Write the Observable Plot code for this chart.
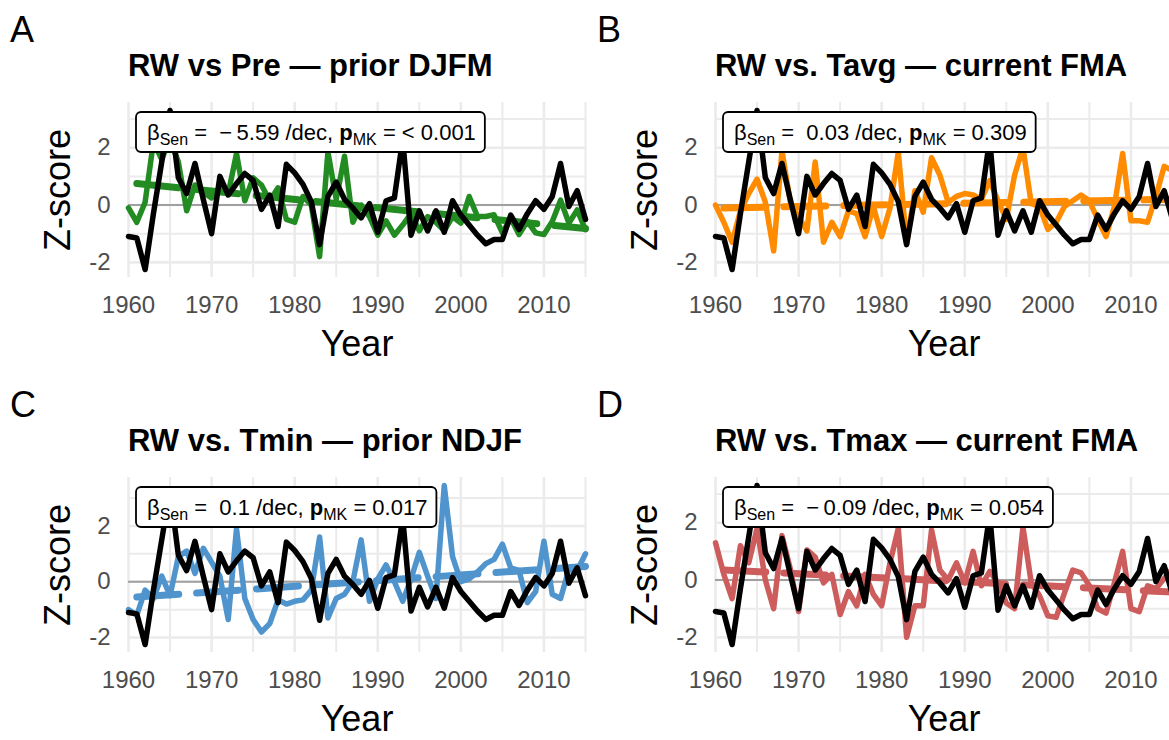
<!DOCTYPE html>
<html><head><meta charset="utf-8">
<script src="https://cdn.jsdelivr.net/npm/d3@7"></script>
<script src="https://cdn.jsdelivr.net/npm/@observablehq/plot@0.6"></script>
<style>
body{margin:0;width:1169px;height:740px;overflow:hidden;background:#fff;font-family:"Liberation Sans",Arial,Helvetica,sans-serif;}
.panel{position:absolute;width:587px;height:375px;}
.tag{position:absolute;left:10px;top:12px;font-size:36px;line-height:36px;color:#000;}
.title{position:absolute;left:128px;top:50px;font-size:31px;line-height:31px;font-weight:bold;white-space:nowrap;color:#000;}
.chart{position:absolute;left:0;top:90px;}
</style></head><body>
<div id="root"></div>
<script>
// ---- data ----
const years = [1960,1961,1962,1963,1964,1965,1966,1967,1968,1969,1970,1971,1972,1973,1974,1975,1976,1977,1978,1979,
  1980,1981,1982,1983,1984,1985,1986,1987,1988,1989,1990,1991,1992,1993,1994,1995,1996,1997,1998,1999,
  2000,2001,2002,2003,2004,2005,2006,2007,2008,2009,2010,2011,2012,2013,2014,2015];
const rw = [-1.1,-1.15,-2.25,-0.3,1.5,3.3,0.95,0.4,1.45,0.2,-1.0,1.0,0.35,0.75,1.1,0.86,-0.15,0.35,-0.75,1.42,
  1.12,0.72,0.12,-1.38,0.3,0.8,0.2,-0.1,-0.45,0.05,-0.95,0.15,0.25,2.3,-1.05,-0.2,-0.9,-0.2,-0.95,0.15,
  -0.35,-0.7,-1.05,-1.35,-1.2,-1.2,-0.35,-0.85,-0.3,0.15,-0.15,0.3,1.45,-0.05,0.5,-0.5];
const pre = [-0.1,-0.6,0.1,2.2,1.6,2.3,1.5,-0.2,0.7,0.45,0.25,0.55,0.4,1.8,0.15,0.95,0.7,0.15,0.6,-0.5,
  -0.6,0.3,0.0,-1.8,1.85,0.2,1.7,-0.6,0.0,-0.4,-1.05,-0.55,-1.05,-0.7,-0.3,-0.9,-0.4,-0.6,-0.9,-0.4,
  -0.63,0.3,-0.4,-0.4,-0.34,-0.97,-0.46,-1.03,-0.57,-0.97,-1.03,-0.57,0.17,-0.63,-0.17,-0.86];
const tavg = [0.0,-0.6,-1.3,-0.2,0.4,0.9,0.1,-1.6,1.9,0.1,-0.4,-0.9,1.5,-1.3,-0.6,-1.1,-0.2,-0.3,-1.1,-0.05,
  -1.1,-0.1,1.85,-1.35,0.5,-0.25,1.65,1.05,0.1,0.3,0.4,0.35,0.2,0.85,0.15,-0.5,1.05,2.0,0.05,-0.05,
  -0.85,-0.6,-0.05,0.15,0.35,0.15,-0.5,-1.1,-0.05,1.8,-0.55,-0.55,-0.6,0.3,1.35,1.2];
const tmin = [-1.0,-1.2,-0.3,-0.6,0.2,-0.5,0.9,1.1,0.3,1.2,0.7,0.2,-1.35,1.9,-0.6,-1.35,-1.8,-1.5,-0.65,-0.8,
  -0.7,-0.65,-0.3,1.6,-1.3,-0.6,-0.45,0.0,1.5,-0.7,0.1,0.6,0.0,-0.7,0.1,1.05,0.2,-0.6,3.45,0.9,
  0.0,0.1,0.35,0.65,0.8,1.35,0.5,0.4,-0.75,-0.35,1.45,-0.45,-0.6,0.45,0.4,1.0];
const tmax = [1.3,0.2,-0.65,1.2,0.6,1.8,0.0,-1.0,1.55,0.4,-1.1,1.05,0.8,-0.1,0.2,-1.2,-0.4,-0.9,0.2,-0.5,
  -0.9,0.6,1.8,-2.0,-0.9,-0.9,1.75,0.35,0.0,0.6,-0.1,1.0,-0.2,0.3,-0.1,-0.8,-1.0,1.85,-0.1,-0.55,
  -1.25,-1.3,-0.45,0.35,0.25,-0.2,-1.0,-1.15,-0.1,1.0,-1.0,-1.1,-0.2,-0.3,0.05,0.4];
const trendYears = [1961, 2015];
const trendPre = [0.75, -0.82];
const trendTavg = [-0.1, 0.2];
const trendTmin = [-0.55, 0.55];
const trendTmax = [0.35, -0.42];
const xMajor = [1960,1970,1980,1990,2000,2010];
const xMinor = [1965,1975,1985,1995,2005,2015];
const yMajor = [-2,0,2];
const yMinor = [-1,1,3];
const tags = ["A","B","C","D"];
const titles = ["RW vs Pre \u2014 prior DJFM","RW vs. Tavg \u2014 current FMA","RW vs. Tmin \u2014 prior NDJF","RW vs. Tmax \u2014 current FMA"];
const slopes = ["\u2212\u20095.59","0.03","0.1","\u2212\u20090.09"];
const pvals = ["< 0.001","0.309","0.017","0.054"];
const colors = ["#228B22","#FF8C00","#4F94CD","#CD5C5C"];
const climSeries = [pre, tavg, tmin, tmax];
const trends = [trendPre, trendTavg, trendTmin, trendTmax];

const FONT = '"Liberation Sans", Arial, Helvetica, sans-serif';
const root = document.getElementById("root");
const NS = "http://www.w3.org/2000/svg";

function makePanel(k) {
  const vals = climSeries[k];
  const data = years.map((y, i) => ({year: y, rw: rw[i], clim: vals[i]}));
  const trend = trendYears.map((y, i) => ({year: y, z: trends[k][i]}));
  const all = rw.concat(vals);
  const lo = d3.min(all), hi = d3.max(all), pad = 0.05 * (hi - lo);
  const W = 587, H = 272, mL = 128, mR = 2, mT = 12, mB = 85;
  const plot = Plot.plot({
    width: W, height: H, marginLeft: mL, marginRight: mR, marginTop: mT, marginBottom: mB,
    style: {fontFamily: FONT, background: "transparent", overflow: "visible"},
    x: {domain: [1960, 2015]},
    y: {domain: [lo - pad, hi + pad]},
    marks: [
      Plot.gridX(xMinor, {stroke: "#ebebeb", strokeOpacity: 1, strokeWidth: 2}),
      Plot.gridX(xMajor, {stroke: "#ebebeb", strokeOpacity: 1, strokeWidth: 2.6}),
      Plot.gridY(yMinor, {stroke: "#ebebeb", strokeOpacity: 1, strokeWidth: 2}),
      Plot.gridY(yMajor, {stroke: "#ebebeb", strokeOpacity: 1, strokeWidth: 2.6}),
      Plot.ruleY([0], {stroke: "#a0a0a0", strokeWidth: 2}),
      Plot.line(data, {x: "year", y: "clim", stroke: colors[k], strokeWidth: 5.5, strokeLinejoin: "round"}),
      Plot.line(trend, {x: "year", y: "z", stroke: colors[k], strokeWidth: 7, strokeDasharray: "42,18"}),
      Plot.line(data, {x: "year", y: "rw", stroke: "#000", strokeWidth: 5.5, strokeLinejoin: "round"}),
      Plot.axisX(xMajor, {tickSize: 0, tickPadding: 18, fontSize: 24, color: "#4d4d4d", label: null, tickFormat: d => String(d)}),
      Plot.axisY(yMajor, {tickSize: 0, tickPadding: 18, fontSize: 24, color: "#4d4d4d", label: null, tickFormat: d => String(d)}),
      Plot.text(["Z-score"], {frameAnchor: "left", dx: -70, rotate: -90, textAnchor: "middle", lineAnchor: "middle", fontSize: 36, fill: "#000"}),
      Plot.text(["Year"], {frameAnchor: "bottom", dy: 67, textAnchor: "middle", lineAnchor: "middle", fontSize: 36, fill: "#000"})
    ]
  });
  const div = document.createElement("div");
  div.className = "panel";
  div.style.left = (k % 2) * 587 + "px";
  div.style.top = Math.floor(k / 2) * 375 + "px";
  const tag = document.createElement("div"); tag.className = "tag"; tag.textContent = tags[k];
  const title = document.createElement("div"); title.className = "title"; title.textContent = titles[k];
  const wrap = document.createElement("div"); wrap.className = "chart"; wrap.appendChild(plot);
  div.appendChild(tag); div.appendChild(title); div.appendChild(wrap);
  root.appendChild(div);

  // annotation label box (geom_label style)
  const g = document.createElementNS(NS, "g");
  const boxX = mL + 8, boxY = mT + 10, boxH = 40;
  const t = document.createElementNS(NS, "text");
  t.setAttribute("x", boxX + 11);
  t.setAttribute("y", boxY + 28);
  t.setAttribute("font-size", 22);
  t.setAttribute("font-family", FONT);
  t.setAttribute("text-anchor", "start");
  t.setAttribute("fill", "#000");
  t.style.whiteSpace = "pre";
  const parts = [
    ["\u03b2", {}],
    ["Sen", {"font-size": 16, dy: 5}],
    [" =  " + slopes[k] + " /dec, ", {dy: -5}],
    ["p", {"font-weight": "bold"}],
    ["MK", {"font-size": 16, dy: 5}],
    [" = " + pvals[k], {dy: -5}]
  ];
  for (const [s, attrs] of parts) {
    const ts = document.createElementNS(NS, "tspan");
    for (const a in attrs) ts.setAttribute(a, attrs[a]);
    ts.textContent = s;
    t.appendChild(ts);
  }
  g.appendChild(t);
  plot.appendChild(g);
  const bb = t.getBBox();
  const rect = document.createElementNS(NS, "rect");
  rect.setAttribute("x", boxX);
  rect.setAttribute("y", boxY);
  rect.setAttribute("width", bb.width + 20);
  rect.setAttribute("height", boxH);
  rect.setAttribute("rx", 5);
  rect.setAttribute("fill", "#fff");
  rect.setAttribute("stroke", "#000");
  rect.setAttribute("stroke-width", 1.8);
  g.insertBefore(rect, t);
}
for (let k = 0; k < 4; k++) makePanel(k);
</script>
</body></html>
